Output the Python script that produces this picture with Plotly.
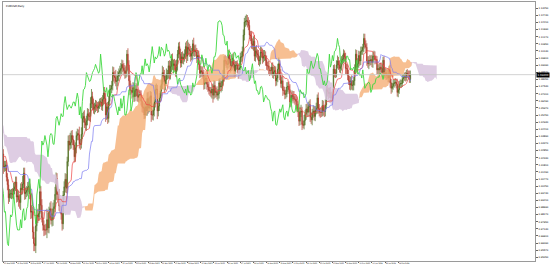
import numpy as np
import pandas as pd
import plotly.graph_objects as go

chart_title = "EURUSD,Daily"
first_open_pips = 10795
# daily closes (1e-4 units), Apr 2022 .. Mar 2024
close_pips = [
    10715, 10640, 10560, 10500, 10545,
    10505, 10525, 10620, 10540, 10550, 10560, 10530, 10515, 10380, 10410, 10435, 10550, 10465, 10585, 10560, 10690, 10735, 10680, 10725, 10730, 10780, 10735,
    10650, 10750, 10720, 10695, 10705, 10715, 10615, 10520, 10410, 10420, 10445, 10545, 10495, 10510, 10535, 10565, 10520, 10555, 10585, 10520, 10445, 10480,
    10425, 10425, 10265, 10180, 10160, 10185, 10040, 10035, 10060, 10020, 10085, 10140, 10225, 10180, 10230, 10210, 10220, 10120, 10200, 10195, 10220,
    10260, 10165, 10170, 10245, 10180, 10195, 10210, 10300, 10320, 10260, 10160, 10170, 10180, 10090, 10035, 9940, 9970, 9970, 9970, 9965, 10005, 10020, 10055,
    9945, 9955, 9925, 9905, 10010, 10000, 10040, 10120, 9970, 9980, 9995, 10015, 10025, 9970, 9835, 9840, 9690, 9605, 9590, 9735, 9815, 9800,
    9825, 9985, 9885, 9795, 9740, 9705, 9705, 9705, 9780, 9720, 9835, 9860, 9775, 9785, 9860, 9875, 9965, 10080, 9965, 9965, 9880,
    9875, 9820, 9750, 9960, 10020, 10075, 10010, 10205, 10355, 10325, 10345, 10395, 10365, 10325, 10240, 10305, 10395, 10410, 10400, 10335, 10330, 10405,
    10520, 10535, 10490, 10470, 10505, 10555, 10535, 10535, 10630, 10680, 10625, 10585, 10605, 10620, 10605, 10595, 10615, 10640, 10640, 10610, 10660, 10705,
    10665, 10545, 10605, 10520, 10645, 10730, 10735, 10760, 10855, 10830, 10820, 10790, 10795, 10830, 10855, 10870, 10885, 10915, 10890, 10870, 10850, 10865,
    10990, 10910, 10795, 10725, 10725, 10710, 10745, 10680, 10725, 10735, 10685, 10675, 10695, 10685, 10645, 10605, 10595, 10545, 10605, 10575,
    10665, 10595, 10635, 10685, 10545, 10545, 10580, 10640, 10730, 10735, 10575, 10610, 10670, 10720, 10770, 10855, 10830, 10760, 10800, 10845, 10845, 10905, 10840,
    10900, 10955, 10905, 10920, 10905, 10860, 10915, 10990, 11045, 10990, 10925, 10970, 10955, 10965, 10990, 11045, 10975, 11040, 11025, 11015,
    10975, 10995, 11065, 11010, 11020, 11005, 10960, 10980, 10915, 10850, 10870, 10860, 10840, 10770, 10805, 10815, 10770, 10750, 10725, 10720, 10705, 10735, 10690,
    10760, 10710, 10715, 10690, 10700, 10780, 10750, 10755, 10790, 10830, 10945, 10940, 10920, 10915, 10985, 10955, 10895, 10905, 10960, 10915, 10865, 10910,
    10910, 10880, 10850, 10890, 10970, 10970, 11010, 11130, 11225, 11230, 11235, 11225, 11200, 11130, 11125, 11065, 11055, 11085, 10975, 11015, 10995,
    10985, 10940, 10945, 11005, 11000, 10960, 10975, 10980, 10945, 10905, 10905, 10875, 10870, 10870, 10895, 10845, 10860, 10870, 10795, 10815, 10880, 10920, 10840,
    10775, 10795, 10725, 10725, 10695, 10700, 10750, 10755, 10730, 10640, 10660, 10690, 10680, 10660, 10660, 10645, 10595, 10570, 10500, 10565, 10575,
    10475, 10470, 10505, 10550, 10590, 10565, 10605, 10620, 10530, 10510, 10560, 10575, 10535, 10580, 10595, 10670, 10590, 10565, 10565, 10565, 10615, 10575,
    10570, 10620, 10730, 10715, 10700, 10710, 10670, 10685, 10700, 10880, 10850, 10850, 10910, 10940, 10910, 10885, 10900, 10940, 10955, 10995, 10970, 10885,
    10885, 10835, 10795, 10765, 10795, 10760, 10765, 10795, 10875, 10990, 10895, 10920, 10980, 10940, 11010, 11015, 11040, 11105, 11060, 11040,
    10940, 10920, 10945, 10940, 10950, 10930, 10975, 10975, 10950, 10950, 10875, 10885, 10875, 10895, 10885, 10855, 10945, 10845, 10855, 10835, 10845, 10815,
    10875, 10780, 10740, 10755, 10775, 10780, 10785, 10770, 10710, 10730, 10770, 10775, 10775, 10810, 10820, 10825, 10820, 10850, 10845, 10840, 10805,
    10840,
]
# upper wick above the body (1e-4 units)
wick_up_pips = [
    20, 35, 25, 30, 40,
    30, 45, 40, 60, 35, 40, 30, 55, 25, 45, 30, 40, 60, 35, 40, 25, 30, 40, 25, 30, 20, 35,
    50, 30, 45, 25, 35, 40, 30, 25, 40, 35, 60, 30, 40, 35, 25, 30, 40, 35, 30, 25, 20, 40,
    35, 20, 40, 30, 35, 45, 30, 40, 25, 35, 30, 40, 35, 30, 45, 50, 35, 30, 40, 30, 35,
    45, 30, 35, 40, 35, 30, 40, 45, 50, 30, 35, 40, 30, 35, 30, 40, 35, 30, 35, 40, 45, 35, 40,
    40, 45, 35, 40, 35, 45, 60, 40, 40, 35, 30, 40, 35, 50, 40, 45, 35, 40, 45, 40, 35, 45,
    70, 50, 40, 45, 40, 35, 40, 45, 80, 50, 40, 45, 55, 40, 45, 50, 55, 45, 40, 35, 40,
    50, 40, 35, 30, 40, 45, 40, 35, 40, 45, 70, 35, 40, 30, 35, 40, 30, 35, 30, 60, 35, 50,
    40, 35, 45, 30, 35, 40, 35, 30, 45, 55, 35, 40, 30, 35, 30, 35, 30, 25, 30, 35, 30, 45,
    45, 40, 30, 35, 40, 35, 30, 35, 45, 40, 35, 55, 40, 35, 30, 35, 40, 35, 30, 35, 40, 35,
    30, 43, 35, 40, 50, 35, 40, 35, 40, 45, 35, 40, 35, 30, 40, 35, 40, 35, 40, 45,
    45, 50, 40, 35, 30, 40, 50, 35, 35, 40, 30, 40, 35, 40, 35, 50, 40, 45, 35, 40, 30, 35, 40,
    40, 35, 40, 30, 35, 40, 35, 30, 30, 35, 40, 35, 40, 30, 35, 30, 40, 55, 35, 40,
    35, 40, 30, 45, 35, 40, 30, 40, 35, 30, 35, 30, 40, 35, 40, 30, 35, 30, 40, 25, 30, 35, 40,
    40, 35, 30, 40, 35, 30, 35, 40, 35, 45, 30, 40, 35, 30, 35, 40, 30, 35, 30, 40, 35, 30,
    30, 35, 40, 35, 30, 40, 35, 40, 30, 40, 45, 41, 35, 40, 30, 35, 40, 35, 45, 30, 40,
    30, 35, 30, 40, 35, 30, 45, 40, 30, 35, 30, 35, 30, 25, 30, 35, 40, 35, 30, 35, 40, 45, 30,
    40, 30, 35, 30, 25, 30, 35, 30, 35, 40, 30, 35, 30, 40, 35, 30, 35, 30, 25, 40, 45,
    30, 25, 40, 30, 35, 40, 35, 30, 40, 35, 30, 40, 35, 30, 40, 25, 40, 35, 30, 35, 40, 35,
    35, 40, 30, 35, 30, 35, 40, 30, 35, 30, 35, 30, 35, 40, 30, 35, 30, 35, 30, 30, 22, 30,
    35, 30, 40, 35, 30, 40, 35, 30, 40, 35, 30, 40, 35, 30, 35, 30, 25, 35, 34, 30,
    30, 35, 30, 40, 30, 35, 30, 40, 35, 30, 25, 30, 35, 30, 35, 30, 25, 30, 35, 30, 30, 35,
    30, 35, 30, 25, 30, 25, 30, 25, 40, 30, 25, 30, 25, 30, 25, 30, 35, 25, 30, 25, 30,
    30,
]
# lower wick below the body (1e-4 units)
wick_dn_pips = [
    45, 30, 40, 35, 25,
    40, 25, 30, 35, 45, 30, 55, 40, 45, 30, 35, 25, 30, 40, 25, 35, 40, 30, 35, 25, 45, 30,
    25, 40, 30, 35, 30, 25, 40, 35, 45, 30, 50, 35, 30, 25, 40, 35, 30, 40, 25, 35, 40, 30,
    40, 35, 45, 30, 40, 35, 45, 30, 55, 68, 30, 35, 25, 40, 35, 30, 40, 35, 30, 40, 30,
    30, 40, 35, 30, 40, 35, 30, 25, 35, 40, 45, 30, 35, 30, 40, 45, 30, 35, 40, 30, 35, 40, 30,
    40, 35, 50, 45, 55, 40, 35, 30, 45, 40, 35, 40, 35, 40, 50, 45, 50, 55, 40, 54, 40, 45,
    30, 40, 50, 35, 40, 45, 40, 35, 60, 35, 40, 45, 30, 45, 50, 35, 40, 40, 45, 40, 35,
    45, 40, 50, 40, 35, 40, 35, 40, 35, 40, 30, 45, 40, 35, 40, 35, 40, 35, 40, 35, 40, 30,
    35, 30, 40, 35, 40, 35, 30, 35, 40, 35, 45, 30, 35, 40, 30, 35, 30, 25, 35, 30, 35, 40,
    40, 50, 35, 40, 30, 35, 40, 30, 35, 40, 45, 35, 60, 40, 35, 30, 35, 40, 30, 35, 40, 35,
    40, 35, 40, 35, 30, 45, 35, 40, 35, 45, 40, 35, 40, 35, 30, 40, 35, 30, 25, 35,
    35, 40, 30, 45, 50, 35, 40, 45, 40, 35, 60, 40, 35, 30, 40, 35, 45, 50, 35, 30, 40, 35, 30,
    35, 40, 30, 35, 30, 35, 40, 45, 30, 40, 35, 30, 35, 40, 30, 35, 50, 35, 40, 45,
    40, 30, 45, 35, 40, 30, 35, 30, 40, 35, 30, 35, 30, 40, 35, 30, 40, 35, 30, 35, 30, 40, 55,
    30, 40, 35, 30, 40, 35, 30, 40, 35, 30, 40, 35, 30, 40, 30, 35, 40, 30, 35, 30, 40, 35,
    35, 30, 40, 30, 35, 40, 30, 35, 40, 35, 30, 40, 35, 30, 40, 35, 30, 40, 35, 40, 30,
    35, 30, 40, 30, 35, 40, 30, 35, 40, 30, 35, 30, 40, 30, 35, 30, 35, 30, 40, 35, 30, 35, 40,
    30, 35, 40, 30, 35, 30, 25, 35, 30, 40, 35, 30, 35, 30, 40, 35, 30, 40, 35, 30, 35,
    40, 22, 30, 35, 40, 30, 35, 40, 35, 30, 40, 35, 30, 35, 30, 40, 35, 30, 40, 35, 30, 35,
    40, 35, 30, 35, 40, 30, 35, 30, 40, 35, 30, 35, 30, 25, 35, 30, 35, 30, 25, 30, 35, 40,
    40, 35, 30, 35, 40, 30, 35, 40, 35, 30, 40, 35, 30, 35, 30, 25, 30, 35, 30, 40,
    35, 30, 40, 35, 30, 35, 40, 30, 35, 30, 35, 30, 40, 35, 30, 35, 30, 35, 30, 35, 30, 30,
    30, 35, 40, 30, 25, 30, 25, 30, 30, 35, 30, 25, 30, 25, 30, 25, 30, 25, 30, 35, 25,
    25,
]
last_date = "2024-03-01"
closed_days = ["2023-12-25", "2024-01-01"]
tenkan_len, kijun_len, senkou_len, shift = 9, 26, 52, 26
first_visible_bar = 80
date_label_every = 13
y_tick_top, y_tick_step = 1.1325, 0.0052
y_range = [0.9478, 1.1371]
x_range = [79.6, 605.1]

n = min(len(close_pips), len(wick_up_pips), len(wick_dn_pips))
close = np.array(close_pips[:n], dtype=float) / 1e4
opn = np.r_[first_open_pips / 1e4, close[:-1]]
high = np.maximum(opn, close) + np.array(wick_up_pips[:n]) / 1e4
low = np.minimum(opn, close) - np.array(wick_dn_pips[:n]) / 1e4

days = pd.bdate_range(end=last_date, periods=n + 10)
days = days[~days.isin(pd.to_datetime(closed_days))][-n:]
idx = np.arange(n)

hs, ls = pd.Series(high), pd.Series(low)


def mid(p):
    return ((hs.rolling(p).max() + ls.rolling(p).min()) / 2).to_numpy()


tenkan = mid(tenkan_len)
kijun = mid(kijun_len)
span_a = (tenkan + kijun) / 2
span_b = mid(senkou_len)
sx = idx + shift
valid = ~np.isnan(span_a) & ~np.isnan(span_b)


def cloud_xy(bull):
    cond = (span_a >= span_b) if bull else (span_a < span_b)
    cond = cond & valid
    xs, ys = [], []
    i = 0
    while i < n:
        if cond[i]:
            j = i
            while j + 1 < n and cond[j + 1]:
                j += 1
            s = i - 1 if (i > 0 and valid[i - 1]) else i
            e = min(j + 1, n - 1)
            seg = list(range(s, e + 1))
            xs += [float(sx[k]) for k in seg] + [float(sx[k]) for k in reversed(seg)] + [None]
            ys += [float(span_a[k]) for k in seg] + [float(span_b[k]) for k in reversed(seg)] + [None]
            i = j + 1
        else:
            i += 1
    return xs, ys


fig = go.Figure()
bx, by = cloud_xy(True)
fig.add_trace(go.Scatter(x=bx, y=by, fill="toself", mode="lines", line=dict(width=0),
                         fillcolor="rgba(244,170,110,0.75)", hoverinfo="skip", showlegend=False))
rx, ry = cloud_xy(False)
fig.add_trace(go.Scatter(x=rx, y=ry, fill="toself", mode="lines", line=dict(width=0),
                         fillcolor="rgba(216,196,222,0.85)", hoverinfo="skip", showlegend=False))

fig.add_trace(go.Candlestick(
    x=idx, open=opn, high=high, low=low, close=close, whiskerwidth=0,
    increasing=dict(line=dict(color="#4a6a1c", width=0.7), fillcolor="#6b8a2a"),
    decreasing=dict(line=dict(color="#b03828", width=0.7), fillcolor="#b03828"),
    hoverinfo="skip", showlegend=False))

fig.add_trace(go.Scatter(x=idx, y=tenkan, mode="lines", line=dict(color="#ee4444", width=0.7),
                         hoverinfo="skip", showlegend=False))
fig.add_trace(go.Scatter(x=idx, y=kijun, mode="lines", line=dict(color="#7a7af0", width=0.7),
                         hoverinfo="skip", showlegend=False))
fig.add_trace(go.Scatter(x=idx - shift, y=close, mode="lines", line=dict(color="#40d840", width=0.9),
                         hoverinfo="skip", showlegend=False))

tick_idx = list(range(first_visible_bar, n, date_label_every))
tick_txt = [days[i].strftime("%d %b %Y") for i in tick_idx]
yticks = []
v = y_tick_top
while v > y_range[0]:
    yticks.append(round(v, 5))
    v -= y_tick_step

last = float(close[-1])
fig.add_shape(type="line", xref="paper", x0=0, x1=1, y0=last, y1=last,
              line=dict(color="#c8c8c8", width=0.8))
fig.add_annotation(xref="paper", x=1, y=last, xanchor="left", yanchor="middle", showarrow=False,
                   text=f"{last:.5f}", bgcolor="#000000", font=dict(color="#ffffff", size=2.6),
                   borderpad=0.6, xshift=0.5)
fig.add_annotation(xref="paper", yref="paper", x=0, y=1, xanchor="left", yanchor="top",
                   showarrow=False, text=chart_title, font=dict(color="#000000", size=2.6),
                   xshift=1, yshift=-0.5)

fig.update_layout(
    width=550, height=268, margin=dict(l=3, r=11, t=1, b=7),
    paper_bgcolor="#ffffff", plot_bgcolor="#ffffff",
    font=dict(family="DejaVu Sans", size=2.6, color="#000000"),
    xaxis=dict(range=x_range, rangeslider=dict(visible=False), showgrid=False, zeroline=False,
               tickvals=tick_idx, ticktext=tick_txt, ticks="outside", ticklen=1.5, tickangle=0,
               tickcolor="#666666", tickwidth=0.5, ticklabelposition="outside right",
               tickfont=dict(size=1.7, color="#000000"), showline=True, linecolor="#9a9a9a",
               linewidth=0.8, mirror=True),
    yaxis=dict(range=y_range, side="right", showgrid=False, zeroline=False,
               tickvals=yticks, ticktext=[f"{t:.5f}" for t in yticks], ticks="outside",
               ticklen=2, tickcolor="#666666", tickwidth=0.5, tickfont=dict(size=2.4, color="#000000"),
               showline=True, linecolor="#9a9a9a", linewidth=0.8, mirror=True),
)
fig.write_html("out.html")
